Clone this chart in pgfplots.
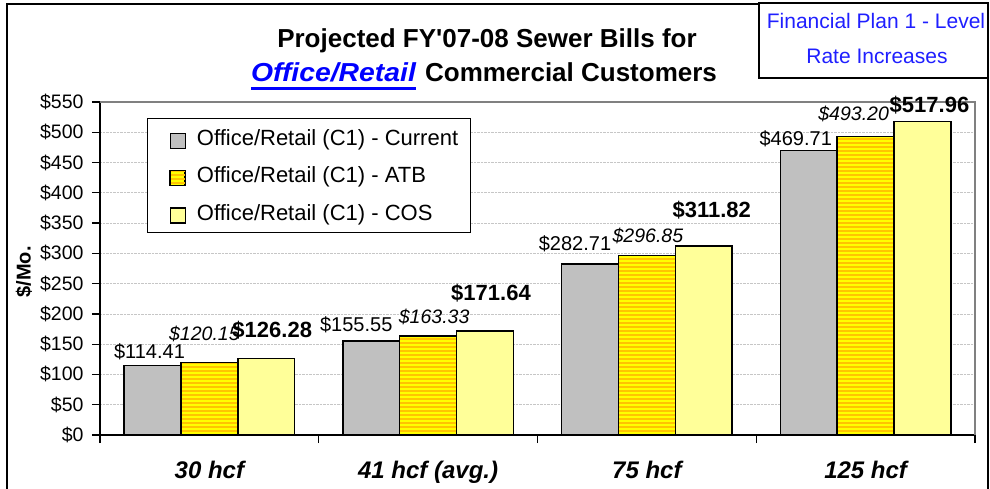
\documentclass[border=0pt]{standalone}
\usepackage{graphicx}
\usepackage{pgfplots}
\pgfplotsset{compat=1.18}
\usepackage{pgfplotstable}
\usetikzlibrary{patterns}
\usepackage{fontspec}
\setmainfont{Liberation Sans}
\definecolor{barGray}{HTML}{C0C0C0}
\definecolor{atbYellow}{HTML}{FFFF00}
\definecolor{atbStripe}{HTML}{FFC400}
\definecolor{cosYellow}{HTML}{FFFF99}
\definecolor{titleBlue}{HTML}{0000FF}
\definecolor{noteBlue}{HTML}{1F1FFF}
\pgfdeclarepatternformonly{thickhlines}{\pgfqpoint{-1pt}{-0.1pt}}{\pgfqpoint{5pt}{4.1pt}}{\pgfqpoint{4pt}{4pt}}{%
  \pgfpathrectangle{\pgfqpoint{-1pt}{0pt}}{\pgfqpoint{6pt}{1.7pt}}\pgfusepath{fill}}
\pgfplotstableread{
x cur atb cos gc ga gs dc da ds
0 114.41 120.15 126.28 7.7 22 21 -3 -5 6
1 155.55 163.33 171.64 9 13 31 -15 6 6
2 282.71 296.85 311.82 13 13 29 -15 1 8
3 469.71 493.20 517.96 5 16 9 -13 -12 7
}\bills
\newcommand{\fs}[1]{\fontsize{#1}{#1}\selectfont}
\newcommand{\myul}[1]{\setbox0\hbox{#1}\rlap{\raisebox{-8pt}{\rule{\wd0}{3pt}}}\box0}
\begin{document}
\begin{tikzpicture}[x=1pt,y=1pt]
\useasboundingbox (0,0) rectangle (990,488);
\draw[line width=1.5pt] (7,-20) rectangle (988,484);
\begin{axis}[
  at={(100pt,53pt)}, anchor=south west,
  scale only axis, width=875pt, height=333pt,
  xmin=-0.5, xmax=3.5, ymin=0, ymax=550,
  clip=false,
  axis x line*=bottom, axis y line*=left,
  axis line style={line width=1.2pt, black, -},
  ybar=0pt, bar width=0.26,
  tick align=outside, major tick length=8pt,
  tick style={black, line width=1.2pt},
  tick label style={font=\fontsize{19.5}{20}\selectfont},
  xtick={-0.5,0.5,1.5,2.5,3.5}, xticklabels={},
  extra x ticks={0,1,2,3},
  extra x tick labels={30 hcf, 41 hcf (avg.), 75 hcf, 125 hcf},
  extra x tick style={major tick length=0pt, xticklabel style={anchor=base, yshift=-43pt, font=\bfseries\itshape\fs{24}}},
  ytick={0,50,...,550},
  yticklabels={\$0,\$50,\$100,\$150,\$200,\$250,\$300,\$350,\$400,\$450,\$500,\$550},
  yticklabel style={font=\fontsize{19.5}{20}\selectfont, xshift=-5pt},
  /pgf/number format/assume math mode=true,
  ymajorgrids, grid style={draw=gray!45, densely dotted, line width=0.7pt},
  ylabel={\$/Mo.},
  ylabel style={font=\bfseries\fs{20}, at={(axis description cs:-0.087,0.49)}, anchor=center},
  legend style={at={(0.0537,0.952)}, anchor=north west, draw=black, line width=1pt,
    font=\fs{22}, row sep=16pt, inner xsep=10pt, inner ysep=9pt,
    /tikz/every odd column/.append style={column sep=9pt}},
  legend cell align=left,
  legend image code/.code={\path (-12pt,0pt); \draw[#1, line width=1.4pt] (0pt,-10pt) rectangle (15pt,5pt);},
  nodes near coords={\$\pgfmathprintnumber[fixed,fixed zerofill,precision=2]{\pgfplotspointmeta}},
]
\addplot[fill=barGray, draw=black, line width=1.5pt,
  visualization depends on={\thisrow{gc} \as \gap},
  visualization depends on={\thisrow{dc} \as \dx},
  every node near coord/.append style={font=\fs{20}, anchor=base, yshift=\gap*1pt, xshift=\dx*1pt, black},
] table[x=x, y=cur] {\bills};
\addlegendentry{Office/Retail (C1) - Current}
\addplot[draw=black, line width=1.5pt,
  preaction={fill=atbYellow},
  pattern=thickhlines, pattern color=atbStripe,
  visualization depends on={\thisrow{ga} \as \gap},
  visualization depends on={\thisrow{da} \as \dx},
  every node near coord/.append style={font=\itshape\fs{19.5}, anchor=base, yshift=\gap*1pt, xshift=\dx*1pt, black},
] table[x=x, y=atb] {\bills};
\addlegendentry{Office/Retail (C1) - ATB}
\addplot[fill=cosYellow, draw=black, line width=1.5pt,
  visualization depends on={\thisrow{gs} \as \gap},
  visualization depends on={\thisrow{ds} \as \dx},
  every node near coord/.append style={font=\bfseries\fs{22}, anchor=base, yshift=\gap*1pt, xshift=\dx*1pt, black},
] table[x=x, y=cos] {\bills};
\addlegendentry{Office/Retail (C1) - COS}
\draw[gray, line width=1.3pt] (rel axis cs:0,1) -- (rel axis cs:1,1) -- (rel axis cs:1,0);
\end{axis}
\node[anchor=base, font=\bfseries\fs{26}] at (487,440) {Projected FY\textquotesingle 07-08 Sewer Bills for};
\node[anchor=base, font=\bfseries\fs{26}] at (484,406) {\textcolor{titleBlue}{\myul{\scalebox{1.09}[1]{\itshape Office/Retail}}}\hspace{2pt} Commercial Customers};
\draw[line width=1.5pt, fill=white] (759,410) rectangle (988,485);
\node[anchor=base, text=noteBlue, font=\fs{21}] at (876,459) {Financial Plan 1 - Level};
\node[anchor=base, text=noteBlue, font=\fs{21}] at (877,424) {Rate Increases};
\end{tikzpicture}
\end{document}
